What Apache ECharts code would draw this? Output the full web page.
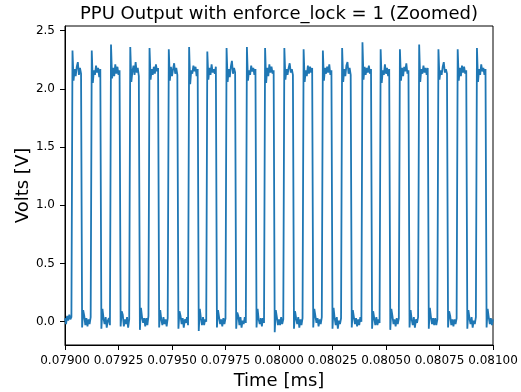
<!DOCTYPE html>
<html>
<head>
<meta charset="utf-8">
<title>PPU Output with enforce_lock = 1 (Zoomed)</title>
<script src="https://cdn.jsdelivr.net/npm/echarts@6/dist/echarts.min.js"></script>
<style>
  html, body { margin: 0; padding: 0; background: #fff; }
  #chart { width: 521px; height: 392px; }
</style>
</head>
<body>
<div id="chart"></div>
<script>
// Scope capture: sample timing (time kept in ns so the axis stays exact)
const sampleStartNs = 79000;   // 0.07900 ms
const sampleStepNs = 5;        // 0.000005 ms per sample

// Idle low level before the first pulse
const leadIn = [0.03, -0.02, 0.05, 0.01, 0.06, 0.02, 0.04];

// One row per pulse: high part (overshoot spike, ripple) then the low part
const pulses = [
  [2.33, 2.07, 2.17, 2.11, 2.19, 2.23, 2.12, 2.18, 2.13, -0.05, 0.10, 0.05, -0.03, 0.03, -0.04, 0.02, -0.02, 0.04],
  [2.33, 2.05, 2.16, 2.12, 2.20, 2.14, 2.18, 2.10, 2.17, -0.06, 0.11, 0.03, -0.02, 0.04, -0.05, 0.01, 0.03, -0.03],
  [2.38, 2.09, 2.18, 2.11, 2.21, 2.13, 2.19, 2.12, 2.16, -0.04, 0.09, 0.06, -0.04, 0.02, -0.02, 0.04, -0.05, 0.02],
  [2.36, 2.06, 2.15, 2.20, 2.12, 2.23, 2.14, 2.18, 2.11, -0.07, 0.12, 0.04, -0.01, 0.03, -0.04, 0.03, -0.03, 0.05],
  [2.35, 2.08, 2.17, 2.12, 2.19, 2.13, 2.21, 2.15, 2.18, -0.05, 0.10, 0.02, -0.03, 0.04, -0.02, 0.02, -0.04, 0.03],
  [2.34, 2.07, 2.19, 2.11, 2.17, 2.22, 2.13, 2.18, 2.12, -0.06, 0.09, 0.05, -0.02, 0.03, -0.05, 0.02, -0.01, 0.04, -0.03],
  [2.36, 2.04, 2.16, 2.13, 2.20, 2.15, 2.19, 2.11, 2.17, -0.08, 0.11, 0.03, -0.03, 0.04, -0.03, 0.02, 0.00],
  [2.32, 2.08, 2.18, 2.12, 2.21, 2.14, 2.17, 2.13, 2.19, -0.05, 0.10, 0.04, -0.02, 0.02, -0.04, 0.03, -0.02, 0.03],
  [2.35, 2.06, 2.17, 2.10, 2.19, 2.24, 2.13, 2.18, 2.14, -0.06, 0.08, 0.05, -0.03, 0.04, -0.05, 0.01, -0.02, 0.04, -0.01],
  [2.36, 2.07, 2.16, 2.12, 2.20, 2.15, 2.18, 2.12, 2.17, -0.05, 0.11, 0.02, -0.02, 0.03, -0.04, 0.03, -0.01],
  [2.35, 2.05, 2.18, 2.11, 2.21, 2.14, 2.19, 2.13, 2.16, -0.09, 0.10, 0.04, -0.03, 0.02, -0.03, 0.04, -0.02, 0.02],
  [2.35, 2.08, 2.17, 2.12, 2.18, 2.22, 2.14, 2.17, 2.12, -0.06, 0.09, 0.03, -0.02, 0.04, -0.05, 0.02, -0.03, 0.03],
  [2.34, 2.06, 2.16, 2.11, 2.20, 2.13, 2.19, 2.14, 2.18, -0.05, 0.11, 0.05, -0.01, 0.03, -0.04, 0.02, -0.02, 0.04],
  [2.33, 2.07, 2.18, 2.13, 2.19, 2.14, 2.21, 2.12, 2.16, -0.06, 0.12, 0.03, -0.03, 0.04, -0.06, 0.01, -0.02, 0.03],
  [2.35, 2.06, 2.17, 2.11, 2.20, 2.23, 2.13, 2.18, 2.12, -0.05, 0.10, 0.04, -0.02, 0.03, -0.04, 0.02, -0.03, 0.04, 0.00],
  [2.40, 2.08, 2.19, 2.12, 2.18, 2.14, 2.20, 2.13, 2.17, -0.06, 0.09, 0.03, -0.03, 0.04, -0.03, 0.02, -0.01],
  [2.34, 2.05, 2.16, 2.12, 2.21, 2.13, 2.18, 2.11, 2.17, -0.07, 0.11, 0.05, -0.02, 0.02, -0.04, 0.03, -0.02, 0.03],
  [2.34, 2.07, 2.18, 2.11, 2.19, 2.15, 2.22, 2.13, 2.16, -0.05, 0.10, 0.02, -0.03, 0.04, -0.05, 0.02, -0.01, 0.04],
  [2.38, 2.06, 2.17, 2.13, 2.20, 2.14, 2.18, 2.12, 2.18, -0.06, 0.12, 0.04, -0.02, 0.03, -0.03, 0.03, -0.03, 0.02],
  [2.34, 2.08, 2.16, 2.12, 2.19, 2.23, 2.14, 2.17, 2.13, -0.05, 0.09, 0.05, -0.03, 0.02, -0.04, 0.02, -0.02, 0.03],
  [2.34, 2.07, 2.18, 2.11, 2.20, 2.14, 2.19, 2.13, 2.16, -0.06, 0.10, 0.03, -0.02, 0.04, -0.05, 0.01, -0.02, 0.04],
  [2.35, 2.06, 2.17, 2.12, 2.21, 2.15, 2.18, 2.12, 2.17, -0.05, 0.11, 0.04, -0.02, 0.03, -0.03, 0.02]
];

// Axis ticks
const xTicksNs = [79000, 79250, 79500, 79750, 80000, 80250, 80500, 80750, 81000];
const yTicks = [0.0, 0.5, 1.0, 1.5, 2.0, 2.5];

const volts = leadIn.concat(...pulses);
const series = volts.map((v, i) => [sampleStartNs + i * sampleStepNs, v]);

const FONT = 'DejaVu Sans';
const chart = echarts.init(document.getElementById('chart'), null, { renderer: 'canvas' });

chart.setOption({
  animation: false,
  backgroundColor: '#ffffff',
  title: {
    text: 'PPU Output with enforce_lock = 1 (Zoomed)',
    left: 274,
    top: 0,
    textAlign: 'center',
    textStyle: { fontFamily: FONT, fontSize: 18, fontWeight: 'normal', color: '#000' }
  },
  grid: {
    left: 65, right: 28, top: 26, bottom: 47,
    show: true, borderColor: '#000', borderWidth: 1,
    outerBoundsMode: 'none'
  },
  xAxis: {
    type: 'value',
    min: 79000, max: 81000,
    name: 'Time [ms]',
    nameLocation: 'middle',
    nameGap: 25,
    nameTextStyle: { fontFamily: FONT, fontSize: 18, color: '#000' },
    axisLine: { show: true, onZero: false, lineStyle: { color: '#000', width: 1 } },
    axisTick: { show: true, inside: false, length: 5, lineStyle: { color: '#000' }, customValues: xTicksNs },
    axisLabel: {
      fontFamily: FONT, fontSize: 12, color: '#000', margin: 10,
      customValues: xTicksNs,
      formatter: v => (v / 1e6).toFixed(5)
    },
    splitLine: { show: false }
  },
  yAxis: {
    type: 'value',
    min: -0.2, max: 2.54,
    name: 'Volts [V]',
    nameLocation: 'middle',
    nameGap: 33,
    nameMoveOverlap: false,
    nameTextStyle: { fontFamily: FONT, fontSize: 18, color: '#000' },
    axisLine: { show: true, onZero: false, lineStyle: { color: '#000', width: 1 } },
    axisTick: { show: true, inside: false, length: 5, lineStyle: { color: '#000' }, customValues: yTicks },
    axisLabel: {
      fontFamily: FONT, fontSize: 12, color: '#000', margin: 10,
      customValues: yTicks,
      formatter: v => v.toFixed(1)
    },
    splitLine: { show: false }
  },
  series: [{
    type: 'line',
    data: series,
    showSymbol: false,
    sampling: 'none',
    clip: true,
    lineStyle: { color: '#1f77b4', width: 1.8 },
    itemStyle: { color: '#1f77b4' }
  }]
});
</script>
</body>
</html>
